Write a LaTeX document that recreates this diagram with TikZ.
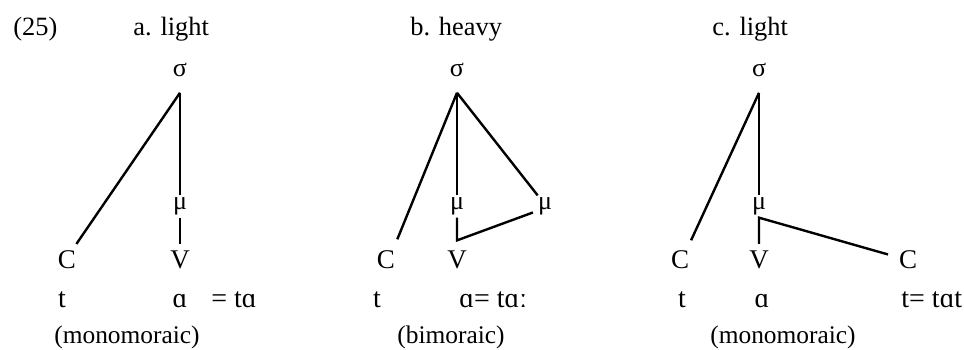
\documentclass[tikz,border=0pt]{standalone}
\usepackage{fontspec}
\setmainfont{Liberation Serif}
\usetikzlibrary{positioning}
\tikzset{
  link/.style={line width=1.2pt, line join=miter},
  sylnode/.style={inner sep=0pt, outer ysep=8pt, font=\fontsize{13}{15}\selectfont},
  moranode/.style={inner xsep=0pt, inner ysep=1pt, font=\fontsize{13}{15}\selectfont},
  segnode/.style={inner sep=0pt, outer ysep=3.5pt, font=\fontsize{13.5}{15}\selectfont},
  tiernode/.style={inner sep=0pt, anchor=base, font=\fontsize{14}{16}\selectfont},
  headnode/.style={inner sep=0pt, anchor=base west, font=\fontsize{13.2}{15}\selectfont},
  notenode/.style={inner sep=0pt, anchor=base, font=\fontsize{12.7}{14}\selectfont}
}
\begin{document}
\begin{tikzpicture}[x=0.5pt,y=-0.5pt]
  \useasboundingbox (0,0) rectangle (964,349);

  % headings
  \node[headnode] (num) at (13,35) {(25)};
  \node[headnode] (hA) at (133,35) {a. light};
  \node[headnode] (hB) at (410,35) {b. heavy};
  \node[headnode] (hC) at (712,35) {c. light};

  % a. light
  \node[sylnode] (sigA) at (180,70) {σ};
  \node[moranode] (muA) at (180,206.5) {μ};
  \node[segnode] (cA) at (67,260) {C};
  \node[segnode] (vA) at (180,260) {V};
  \draw[link] (sigA.south) -- (cA.north east);
  \draw[link] (sigA.south) -- (muA.north);
  \draw[link] (muA.south) -- (vA.north);
  \node[tiernode] (tA) at (62,307) {t};
  \node[tiernode] (aA) at (180,307) {ɑ};
  \node[tiernode, anchor=base west] (eqA) at (211,307) {= tɑ};
  \node[notenode] (nA) at (127,343) {(monomoraic)};

  % b. heavy
  \node[sylnode] (sigB) at (457,70) {σ};
  \node[moranode] (muB) at (457,206.5) {μ};
  \node[moranode] (muBB) at (545,206.5) {μ};
  \node[segnode] (cB) at (386,260) {C};
  \node[segnode] (vB) at (457,260) {V};
  \draw[link, shorten >=2.5pt] (sigB.south) -- (cB.north east);
  \draw[link] (sigB.south) -- (muB.north);
  \draw[link] (sigB.south) -- (muBB.north west);
  \draw[link, shorten >=2.5pt] (muB.south) -- ([yshift=1.8pt]vB.north) -- (muBB.210);
  \node[tiernode] (tB) at (377,307) {t};
  \node[tiernode, anchor=base west] (eqB) at (459,307) {ɑ= tɑː};
  \node[notenode] (nB) at (451,343) {(bimoraic)};

  % c. light
  \node[sylnode] (sigC) at (759,70) {σ};
  \node[moranode] (muC) at (759,206.5) {μ};
  \node[segnode] (cC1) at (680,260) {C};
  \node[segnode] (vC) at (759,260) {V};
  \node[segnode] (cC2) at (908,260) {C};
  \draw[link, shorten >=2pt] (sigC.south) -- (cC1.north east);
  \draw[link] (sigC.south) -- (muC.north);
  \draw[link, shorten >=5.5pt] (vC.north) -- (muC.south) -- (cC2.165);
  \node[tiernode] (tC) at (682,307) {t};
  \node[tiernode] (aC) at (762,307) {ɑ};
  \node[tiernode, anchor=base west] (eqC) at (901,307) {t= tɑt};
  \node[notenode] (nC) at (783,343) {(monomoraic)};
\end{tikzpicture}
\end{document}
